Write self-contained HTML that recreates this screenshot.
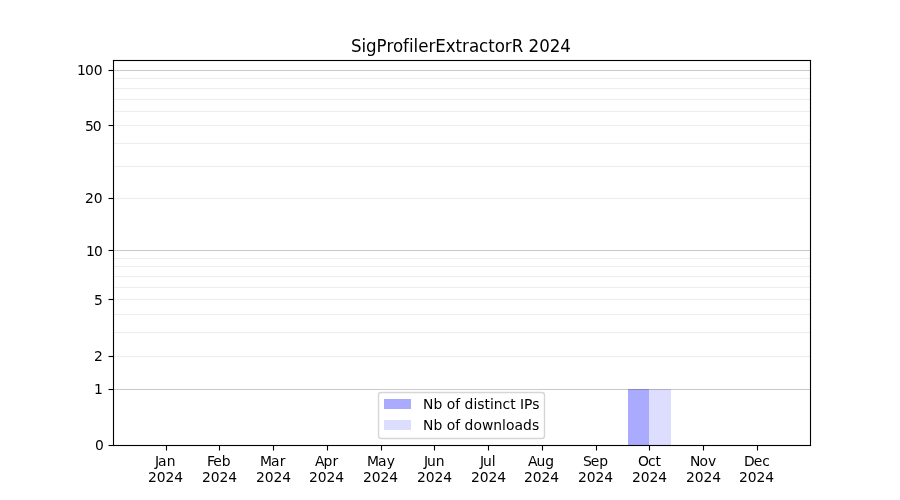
<!DOCTYPE html>
<html lang="en"><head><meta charset="utf-8"><title>SigProfilerExtractorR 2024</title>
<style>html,body{margin:0;padding:0;background:#fff;width:900px;height:500px;overflow:hidden}svg{display:block;will-change:transform}text{font-family:"DejaVu Sans","Liberation Sans",sans-serif;fill:#000;white-space:pre}</style>
</head><body>
<svg width="900" height="500" viewBox="0 0 900 500">
<rect x="0" y="0" width="900" height="500" fill="#ffffff"/>
<g fill="#eeeeee">
<rect x="113.5" y="355.945" width="697" height="1.111"/>
<rect x="113.5" y="331.945" width="697" height="1.111"/>
<rect x="113.5" y="313.945" width="697" height="1.111"/>
<rect x="113.5" y="298.945" width="697" height="1.111"/>
<rect x="113.5" y="286.945" width="697" height="1.111"/>
<rect x="113.5" y="275.945" width="697" height="1.111"/>
<rect x="113.5" y="265.945" width="697" height="1.111"/>
<rect x="113.5" y="257.945" width="697" height="1.111"/>
<rect x="113.5" y="197.945" width="697" height="1.111"/>
<rect x="113.5" y="165.945" width="697" height="1.111"/>
<rect x="113.5" y="142.945" width="697" height="1.111"/>
<rect x="113.5" y="124.945" width="697" height="1.111"/>
<rect x="113.5" y="110.945" width="697" height="1.111"/>
<rect x="113.5" y="98.945" width="697" height="1.111"/>
<rect x="113.5" y="87.945" width="697" height="1.111"/>
<rect x="113.5" y="77.945" width="697" height="1.111"/>
</g>
<rect x="628" y="389" width="21" height="56.5" fill="#aaaaff"/>
<rect x="649" y="389" width="22" height="56.5" fill="#ddddff"/>
<g fill="#000000" fill-opacity="0.2">
<rect x="113.5" y="388.945" width="697" height="1.111"/>
<rect x="113.5" y="249.945" width="697" height="1.111"/>
<rect x="113.5" y="69.945" width="697" height="1.111"/>
</g>
<g fill="#000000">
<rect x="112.945" y="59.944" width="1.111" height="386.111"/>
<rect x="809.944" y="59.944" width="1.111" height="386.111"/>
<rect x="112.945" y="444.945" width="698.111" height="1.111"/>
<rect x="112.945" y="59.944" width="698.111" height="1.111"/>
<rect x="165.945" y="445.5" width="1.111" height="5"/>
<rect x="218.945" y="445.5" width="1.111" height="5"/>
<rect x="272.945" y="445.5" width="1.111" height="5"/>
<rect x="326.945" y="445.5" width="1.111" height="5"/>
<rect x="380.945" y="445.5" width="1.111" height="5"/>
<rect x="433.945" y="445.5" width="1.111" height="5"/>
<rect x="487.945" y="445.5" width="1.111" height="5"/>
<rect x="541.944" y="445.5" width="1.111" height="5"/>
<rect x="595.944" y="445.5" width="1.111" height="5"/>
<rect x="648.944" y="445.5" width="1.111" height="5"/>
<rect x="702.944" y="445.5" width="1.111" height="5"/>
<rect x="756.944" y="445.5" width="1.111" height="5"/>
<rect x="108.5" y="444.945" width="5" height="1.111"/>
<rect x="108.5" y="388.945" width="5" height="1.111"/>
<rect x="108.5" y="355.945" width="5" height="1.111"/>
<rect x="108.5" y="298.945" width="5" height="1.111"/>
<rect x="108.5" y="249.945" width="5" height="1.111"/>
<rect x="108.5" y="197.945" width="5" height="1.111"/>
<rect x="108.5" y="124.945" width="5" height="1.111"/>
<rect x="108.5" y="69.945" width="5" height="1.111"/>
</g>
<g>
<text x="155 158 166.625" y="466" font-size="13.889">Jan</text>
<text x="148 156.75 165.5 174.25" y="482" font-size="13.889">2024</text>
<text x="207 213.25 221.75" y="466" font-size="13.889">Feb</text>
<text x="202 210.75 219.5 228.25" y="482" font-size="13.889">2024</text>
<text x="260 271 279.625" y="466" font-size="13.889">Mar</text>
<text x="256 264.75 273.5 282.25" y="482" font-size="13.889">2024</text>
<text x="315 323.5 332.375" y="466" font-size="13.889">Apr</text>
<text x="309 317.75 326.5 335.25" y="482" font-size="13.889">2024</text>
<text x="367 378 386.625" y="466" font-size="13.889">May</text>
<text x="363 371.75 380.5 389.25" y="482" font-size="13.889">2024</text>
<text x="424 427 435.75" y="466" font-size="13.889">Jun</text>
<text x="417 425.75 434.5 443.25" y="482" font-size="13.889">2024</text>
<text x="480 483 491.75" y="466" font-size="13.889">Jul</text>
<text x="471 479.75 488.5 497.25" y="482" font-size="13.889">2024</text>
<text x="528 536.5 545.25" y="466" font-size="13.889">Aug</text>
<text x="524 532.75 541.5 550.25" y="482" font-size="13.889">2024</text>
<text x="583 590.75 599.25" y="466" font-size="13.889">Sep</text>
<text x="578 586.75 595.5 604.25" y="482" font-size="13.889">2024</text>
<text x="638 647.875 655.5" y="466" font-size="13.889">Oct</text>
<text x="632 640.75 649.5 658.25" y="482" font-size="13.889">2024</text>
<text x="690 699.375 707.875" y="466" font-size="13.889">Nov</text>
<text x="686 694.75 703.5 712.25" y="482" font-size="13.889">2024</text>
<text x="744 753.75 762.25" y="466" font-size="13.889">Dec</text>
<text x="739 747.75 756.5 765.25" y="482" font-size="13.889">2024</text>
</g>
<g>
<text x="95" y="450" font-size="13.889">0</text>
<text x="94" y="394" font-size="13.889">1</text>
<text x="94" y="361" font-size="13.889">2</text>
<text x="94" y="305" font-size="13.889">5</text>
<text x="86 93.875" y="256" font-size="13.889">10</text>
<text x="85 93.75" y="203" font-size="13.889">20</text>
<text x="85 92.75" y="131" font-size="13.889">50</text>
<text x="77 84.875 93.625" y="75" font-size="13.889">100</text>
</g>
<text transform="translate(0 52) scale(1 1.07)" x="351 361.5 366.125 376.625 386.5 393 403.125 409 413.625 418.25 428.5 435.375 445.75 455.625 462.125 469 479.125 488.25 494.75 504.875 511.75 523.375 528.625 539.25 549.75 560.375" y="0" font-size="16.667">SigProfilerExtractorR 2024</text>
<rect x="378.5" y="392.5" width="166" height="46" rx="2.78" ry="2.78" fill="#ffffff" stroke="#cccccc" stroke-width="1.389" opacity="0.8"/>
<rect x="384" y="399" width="27" height="10" fill="#aaaaff"/>
<rect x="384" y="420" width="27" height="10" fill="#ddddff"/>
<text x="423 433.375 442.25 446.625 455.125 460.125 464.5 473.375 477.25 484.375 489.875 493.75 502.5 510.125 515.625 520 524 532.125" y="409" font-size="13.889">Nb of distinct IPs</text>
<text x="423 433.375 442.25 446.625 455.125 460.125 464.5 473.375 481.875 493.25 502 505.875 514.375 523 531.875" y="430" font-size="13.889">Nb of downloads</text>
</svg>
</body></html>
